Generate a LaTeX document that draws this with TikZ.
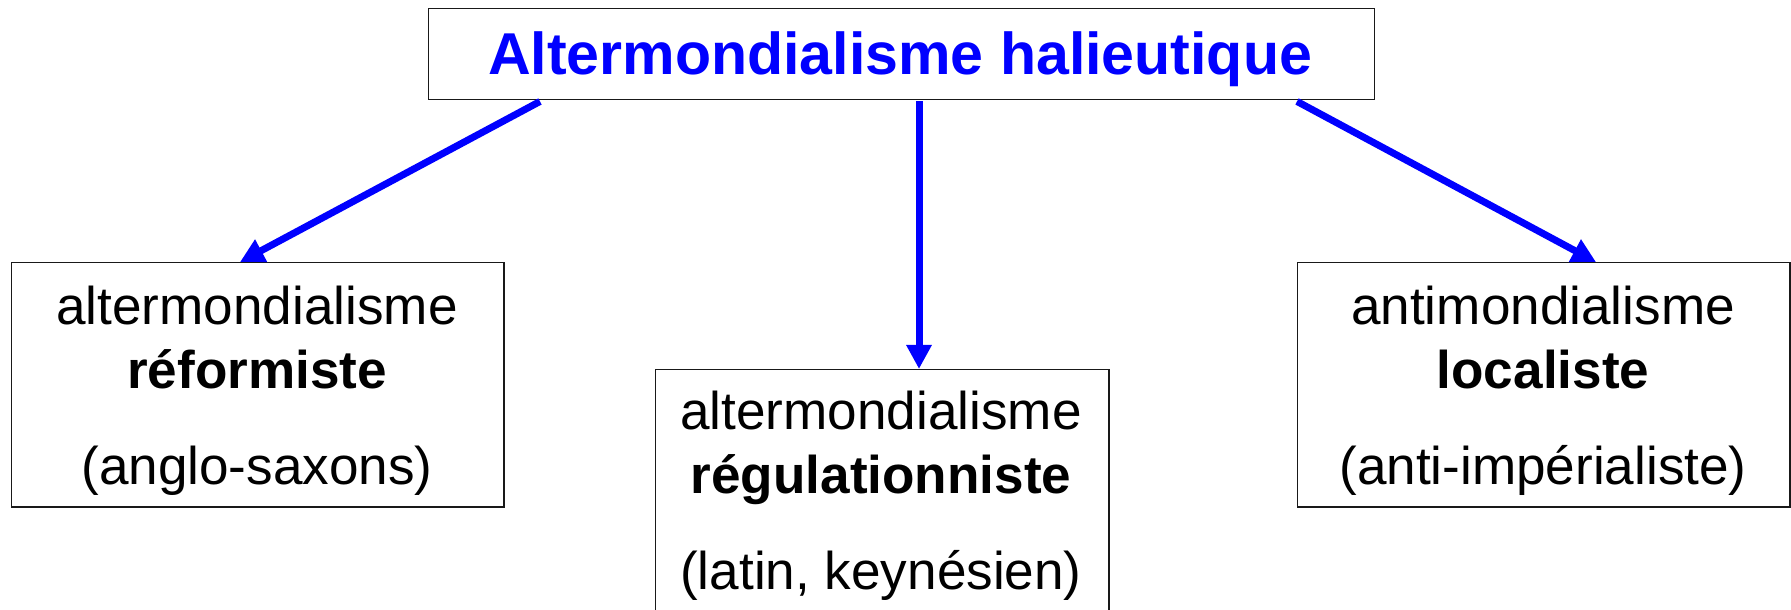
\documentclass[tikz,border=0pt]{standalone}
\usepackage{fontspec}
\setmainfont{Liberation Sans}
\usetikzlibrary{arrows.meta,calc}

\begin{document}
\begin{tikzpicture}[x=0.01cm,y=-0.01cm]
        \tikzstyle{box}=[rectangle,draw=black!90,line width=0.4pt,fill=white,inner sep=0pt,anchor=north west]
        \tikzstyle{boxtext}=[align=center,anchor=base,inner sep=0pt,font=\fontsize{15.1}{18.2}\selectfont]
        \tikzstyle{link}=[draw=blue,line width=0.07cm,-{Triangle[length=0.24cm,width=0.24cm]}]

        \useasboundingbox (0,0) rectangle (1791,610);

        % title
        \node [box,minimum width=9.45cm,minimum height=0.91cm] (title) at (428,8) {};
        \node [anchor=base,inner sep=0pt,text=blue,font=\fontsize{16.8}{20}\selectfont\bfseries] (titletxt) at (900,75) {Altermondialisme halieutique};

        % the three branches
        \node [box,minimum width=4.92cm,minimum height=2.44cm] (reform) at (11,262) {};
        \node [box,minimum width=4.53cm,minimum height=3.00cm] (regul) at (655,369) {};
        \node [box,minimum width=4.92cm,minimum height=2.44cm] (local) at (1297,262) {};

        % base is the last line
        \node [boxtext] (reformtxt) at (257,485) {altermondialisme\\\textbf{réformiste}\\[0.32cm](anglo-saxons)};
        \node [boxtext] (regultxt) at (881,590) {altermondialisme\\\textbf{régulationniste}\\[0.32cm](latin, keynésien)};
        \node [boxtext] (localtxt) at (1543,485) {antimondialisme\\\textbf{localiste}\\[0.32cm](anti-impérialiste)};

        \path [link] ($(title.south west)+(112,1)$) -- ($(reform.north west)+(229,0)$);
        \path [link] ($(title.south west)+(491,1)$) -- ($(regul.north west)+(264,0)$);
        \path [link] ($(title.south west)+(869,1)$) -- ($(local.north west)+(299,0)$);
\end{tikzpicture}
\end{document}
